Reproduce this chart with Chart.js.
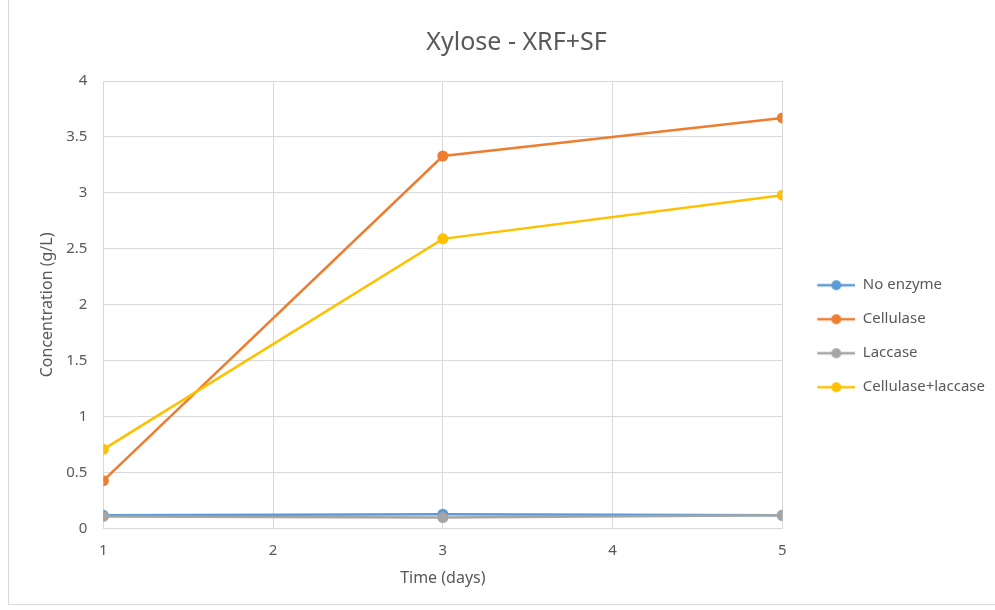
<!DOCTYPE html>
<html>
<head>
<meta charset="utf-8">
<script src="https://cdn.jsdelivr.net/npm/chart.js@4"></script>
<style>
  html, body { margin: 0; padding: 0; background: #ffffff; }
  #wrap { position: absolute; left: 0; top: 0; width: 995px; height: 610px; }
  #frame { position: absolute; left: 8px; top: -1px; width: 995px; height: 606px; border: 1px solid #d9d9d9; box-sizing: border-box; }
</style>
</head>
<body>
<div id="frame"></div>
<div id="wrap"><canvas id="myChart" width="995" height="610"></canvas></div>
<script>
// days sampled
const days = [1, 3, 5];
const noEnzyme = [0.12, 0.13, 0.12];
const cellulase = [0.43, 3.33, 3.67];
const laccase = [0.11, 0.10, 0.12];
const cellulaseLaccase = [0.71, 2.59, 2.98];
const seriesNames = ["No enzyme", "Cellulase", "Laccase", "Cellulase+laccase"];
const seriesColors = ["#5b9bd5", "#ed7d31", "#a5a5a5", "#ffc000"];
const xTicks = [1, 2, 3, 4, 5];
const yTicks = [0, 0.5, 1, 1.5, 2, 2.5, 3, 3.5, 4];

// legend marker: line with a dot, with some blank room on its left
const iconGap = 16;
function legendIcon(color) {
  const c = document.createElement("canvas");
  c.width = 38 + iconGap;
  c.height = 12;
  const g = c.getContext("2d");
  g.strokeStyle = color;
  g.lineWidth = 2.5;
  g.beginPath();
  g.moveTo(iconGap, 6);
  g.lineTo(iconGap + 38, 6);
  g.stroke();
  g.fillStyle = color;
  g.beginPath();
  g.arc(iconGap + 19, 6, 5, 0, Math.PI * 2);
  g.fill();
  return c;
}

const allSeries = [noEnzyme, cellulase, laccase, cellulaseLaccase];
const datasets = allSeries.map((vals, i) => ({
  label: seriesNames[i],
  data: vals.map((v, j) => ({ x: days[j], y: v })),
  borderColor: seriesColors[i],
  backgroundColor: seriesColors[i],
  borderWidth: 2.5,
  pointRadius: 5.5,
  pointHoverRadius: 5.5,
  pointBorderWidth: 0,
  tension: 0,
  fill: false,
}));
// draw order like excel: first series at bottom
datasets.forEach((d, i) => (d.order = -i));

const font = "'Noto Sans', 'Open Sans', sans-serif";
const ctx = document.getElementById("myChart").getContext("2d");
new Chart(ctx, {
  type: "line",
  data: { datasets: datasets },
  options: {
    responsive: false,
    animation: false,
    layout: { padding: { left: 38, right: 0, top: 10, bottom: 22 } },
    plugins: {
      title: {
        display: true,
        text: "Xylose - XRF+SF",
        color: "#595959",
        font: { family: font, size: 25, weight: "normal" },
        padding: { top: 18, bottom: 23 },
      },
      legend: {
        position: "right",
        align: "center",
        title: { display: true, text: " ", font: { size: 2 }, padding: { top: 72, bottom: 0 } },
        labels: {
          color: "#595959",
          font: { family: font, size: 15 },
          usePointStyle: true,
          pointStyleWidth: 38 + iconGap,
          padding: 19,
          generateLabels: (chart) =>
            chart.data.datasets.map((d, i) => ({
              text: d.label,
              fontColor: "#595959",
              pointStyle: legendIcon(seriesColors[i]),
              datasetIndex: i,
              lineWidth: 0,
              strokeStyle: seriesColors[i],
              fillStyle: seriesColors[i],
            })),
        },
      },
      tooltip: { enabled: false },
    },
    scales: {
      x: {
        type: "linear",
        min: 1,
        max: 5,
        afterBuildTicks: (axis) => { axis.ticks = xTicks.map((v) => ({ value: v })); },
        grid: { color: "#d9d9d9", lineWidth: 1, drawTicks: false },
        border: { color: "#d9d9d9" },
        ticks: { color: "#595959", font: { family: font, size: 15 }, padding: 13 },
        title: {
          display: true,
          text: "Time (days)",
          color: "#595959",
          font: { family: font, size: 16 },
          padding: { top: -4, bottom: 0 },
        },
      },
      y: {
        min: 0,
        max: 4,
        afterBuildTicks: (axis) => { axis.ticks = yTicks.map((v) => ({ value: v })); },
        grid: { color: "#d9d9d9", lineWidth: 1, drawTicks: false },
        border: { color: "#d9d9d9" },
        ticks: {
          color: "#595959",
          font: { family: font, size: 15 },
          padding: 16,
          callback: (v) => String(v),
        },
        title: {
          display: true,
          text: "Concentration (g/L)",
          color: "#595959",
          font: { family: font, size: 16 },
          padding: { top: 0, bottom: -7 },
        },
      },
    },
  },
});
</script>
</body>
</html>
